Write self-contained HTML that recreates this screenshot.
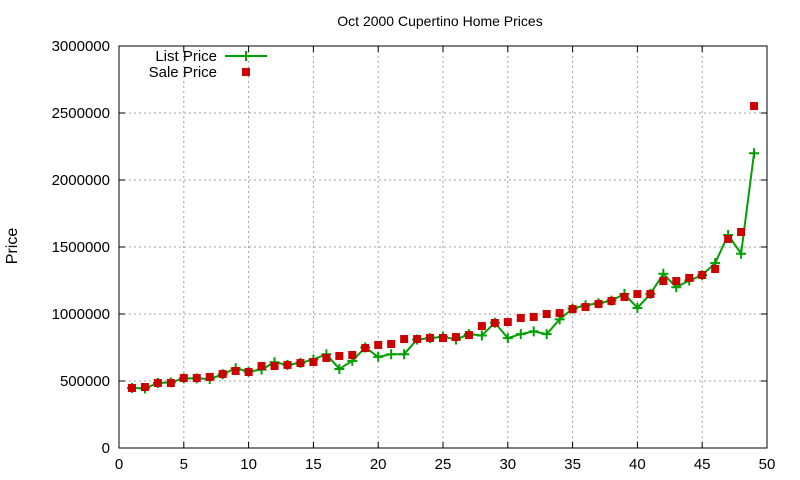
<!DOCTYPE html>
<html><head><meta charset="utf-8"><style>
body{margin:0;background:#fff;}
svg{display:block;font-family:"Liberation Sans",sans-serif;}
</style></head><body>
<svg id="chart" width="800" height="480" xmlns="http://www.w3.org/2000/svg">
<text x="440" y="26" font-size="14" text-anchor="middle">Oct 2000 Cupertino Home Prices</text>
<text x="17" y="246" font-size="16" text-anchor="middle" transform="rotate(-90 17 246)">Price</text>
<g id="grid"></g><g id="axes"></g><g id="series"></g>
<g>
<text x="217" y="61" font-size="15" text-anchor="end">List Price</text>
<line x1="225" y1="56" x2="267" y2="56" stroke="#00a000" stroke-width="2"/>
<path d="M241 56h10M246 51v10" stroke="#00a000" stroke-width="2"/>
<text x="217" y="77" font-size="15" text-anchor="end">Sale Price</text>
<rect x="242" y="68" width="8" height="8" fill="#cc0000"/>
</g>
</svg>
<script>
const xs=[1,2,3,4,5,6,7,8,9,10,11,12,13,14,15,16,17,18,19,20,21,22,23,24,25,26,27,28,29,30,31,32,33,34,35,36,37,38,39,40,41,42,43,44,45,46,47,48,49];
const listPrice=[448000,445000,485000,490000,520000,520000,515000,550000,595000,570000,585000,640000,620000,635000,660000,700000,590000,650000,750000,680000,700000,700000,810000,820000,830000,810000,850000,840000,935000,820000,850000,870000,850000,960000,1040000,1065000,1080000,1100000,1150000,1045000,1150000,1300000,1200000,1250000,1290000,1380000,1590000,1450000,2200000];
const salePrice=[448000,455000,485000,485000,522000,522000,530000,552000,575000,567000,612000,612000,620000,634000,642000,672000,687000,694000,746000,769000,776000,813000,813000,821000,821000,828000,843000,910000,933000,940000,970000,978000,1000000,1007000,1037000,1052000,1075000,1097000,1127000,1149000,1149000,1246000,1246000,1269000,1291000,1336000,1560000,1612000,2552000];
const xTicks=[0,5,10,15,20,25,30,35,40,45,50];
const yTicks=[0,500000,1000000,1500000,2000000,2500000,3000000];
const L=119,R=767,T=46,B=448,NS="http://www.w3.org/2000/svg";
const sx=v=>L+(v-0)/(50-0)*(R-L), sy=v=>B-v/3000000*(B-T);
function mk(tag,attrs,parent){const e=document.createElementNS(NS,tag);for(const k in attrs)e.setAttribute(k,attrs[k]);parent.appendChild(e);return e;}
const grid=document.getElementById('grid'),axes=document.getElementById('axes'),ser=document.getElementById('series');
xTicks.forEach(t=>{const x=sx(t);
 if(t>0&&t<50){const g=mk('line',{x1:x,y1:T,x2:x,y2:B,stroke:'#a0a0a0','stroke-dasharray':'2,3'},grid);
 
 }
 const tk=mk('path',{d:`M${x} ${B}v-6M${x} ${T}v6`,stroke:'#000'},axes);
 
 
 const tx=mk('text',{x:x,y:B+21,'font-size':15,'text-anchor':'middle'},axes);tx.textContent=t;
 
 });
yTicks.forEach(t=>{const y=sy(t);
 if(t>0&&t<3000000){const g=mk('line',{x1:L,y1:y,x2:R,y2:y,stroke:'#a0a0a0','stroke-dasharray':'2,3'},grid);
 
 }
 const tk=mk('path',{d:`M${L} ${y}h6M${R} ${y}h-6`,stroke:'#000'},axes);
 
 
 const tx=mk('text',{x:L-9,y:y+5,'font-size':15,'text-anchor':'end'},axes);tx.textContent=t;
 
 });
const fr=mk('rect',{x:L,y:T,width:R-L,height:B-T,fill:'none',stroke:'#000'},axes);


const pl=mk('polyline',{points:xs.map((x,i)=>sx(x)+','+sy(listPrice[i])).join(' '),fill:'none',stroke:'#00a000','stroke-width':2},ser);


xs.forEach((x,i)=>{const px=sx(x),py=sy(listPrice[i]);
 const m=mk('path',{d:`M${px-5} ${py}h10M${px} ${py-5}v10`,stroke:'#00a000','stroke-width':2},ser);
 
 });
xs.forEach((x,i)=>{const px=sx(x),py=sy(salePrice[i]);
 const r=mk('rect',{x:px-4,y:py-4,width:8,height:8,fill:'#cc0000'},ser);
 
 });
</script>
</body></html>
